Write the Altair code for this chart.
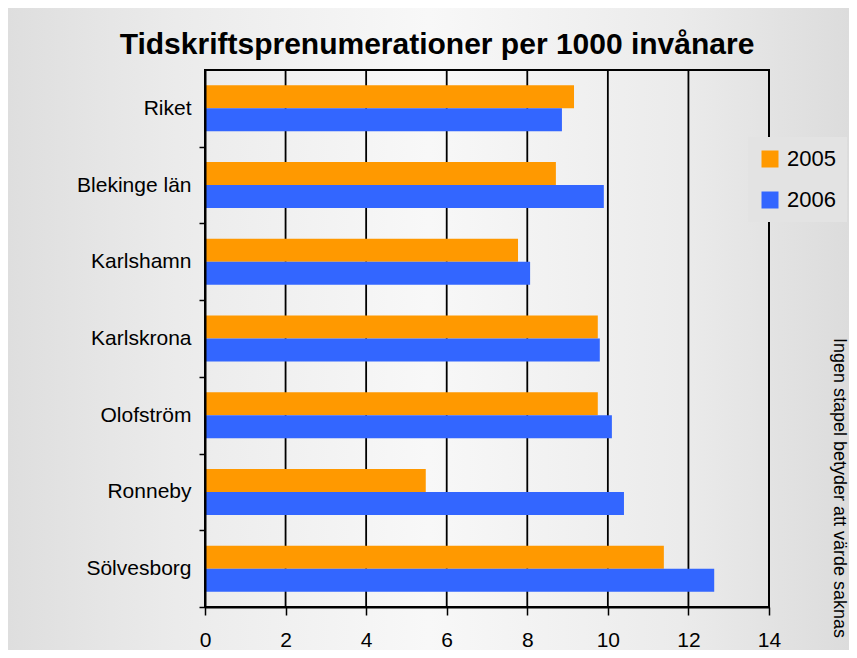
import altair as alt
import pandas as pd

categories = ["Riket", "Blekinge län", "Karlshamn", "Karlskrona", "Olofström", "Ronneby", "Sölvesborg"]
values_2005 = [9.16, 8.71, 7.77, 9.75, 9.75, 5.48, 11.39]
values_2006 = [8.86, 9.90, 8.07, 9.80, 10.10, 10.40, 12.64]
years = ["2005", "2006"]
colors = ["#FF9900", "#3366FF"]
x_ticks = [0, 2, 4, 6, 8, 10, 12, 14]
note = "Ingen stapel betyder att värde saknas"
title_text = "Tidskriftsprenumerationer per 1000 invånare"

rows = []
for c, a, b in zip(categories, values_2005, values_2006):
    rows.append({"kommun": c, "ar": years[0], "varde": a})
    rows.append({"kommun": c, "ar": years[1], "varde": b})
df = pd.DataFrame(rows)

W, H = 564, 537
PL, PT, PR, PB = 197, 62, 80, 43
FONT = "Liberation Sans"
step = H / len(categories)

xscale = alt.Scale(domain=[0, 14], nice=False, zero=True)

bg = alt.Chart(pd.DataFrame({"a": [0]})).mark_rect(
    fill=alt.Gradient(
        gradient="linear",
        stops=[
            alt.GradientStop(offset=0, color="#dedede"),
            alt.GradientStop(offset=0.2, color="#ebebeb"),
            alt.GradientStop(offset=0.5, color="#f8f8f8"),
            alt.GradientStop(offset=0.8, color="#ebebeb"),
            alt.GradientStop(offset=1, color="#dcdcdc"),
        ],
        x1=0, x2=1, y1=0, y2=0,
    )
).encode(
    x=alt.value(-PL), x2=alt.value(W + PR), y=alt.value(-PT), y2=alt.value(H + PB)
)

grid = alt.Chart(pd.DataFrame({"v": x_ticks[1:]})).mark_rule(
    color="black", strokeWidth=1.8
).encode(x=alt.X("v:Q", scale=xscale))

bars = alt.Chart(df).mark_bar().encode(
    x=alt.X(
        "varde:Q",
        scale=xscale,
        axis=alt.Axis(
            values=x_ticks, title=None, grid=False, labelFontSize=21,
            labelPadding=14, labelFlush=False, tickSize=8, domainWidth=2,
            tickWidth=1.5, zindex=1,
        ),
    ),
    y=alt.Y(
        "kommun:N",
        sort=categories,
        scale=alt.Scale(paddingInner=0.4, paddingOuter=0.2),
        axis=alt.Axis(
            title=None, labelFontSize=21, labelPadding=8, tickSize=6,
            tickOffset=step / 2, labelOffset=-step / 2, domainWidth=2,
            tickWidth=1.5, zindex=1,
        ),
    ),
    yOffset=alt.YOffset("ar:N", sort=years),
    color=alt.Color(
        "ar:N",
        scale=alt.Scale(domain=years, range=colors),
        legend=alt.Legend(
            title=None, orient="none", legendX=543, legendY=67,
            symbolType="square", symbolSize=289, labelFontSize=22,
            labelFont=FONT, rowPadding=19, padding=11, fillColor="#e3e3e3",
            symbolStrokeWidth=0, labelOffset=6, labelColor="black",
        ),
    ),
)

frame = alt.Chart(pd.DataFrame({"a": [0]})).mark_rect(
    filled=False, stroke="black", strokeWidth=2
).encode(x=alt.value(0), x2=alt.value(W), y=alt.value(0), y2=alt.value(H))

note_layer = alt.Chart(pd.DataFrame({"t": [note]})).mark_text(
    angle=90, fontSize=18, font=FONT, align="center", baseline="middle", color="black"
).encode(x=alt.value(634), y=alt.value(418), text="t:N")

title_layer = alt.Chart(pd.DataFrame({"t": [title_text]})).mark_text(
    fontSize=30, font=FONT, fontWeight="bold", align="center",
    baseline="alphabetic", color="black"
).encode(x=alt.value(232), y=alt.value(-16), text="t:N")

chart = alt.layer(bg, grid, bars, frame, note_layer, title_layer).properties(
    width=W,
    height=H,
    padding={"left": PL, "top": PT, "right": PR, "bottom": PB},
    autosize=alt.AutoSizeParams(type="none"),
    background="#e2e2e2",
).configure_axis(
    domainColor="black", tickColor="black", labelColor="black", labelFont=FONT
).configure_view(stroke=None)

chart.save("out.html", embed_options={"renderer": "svg", "actions": False})
